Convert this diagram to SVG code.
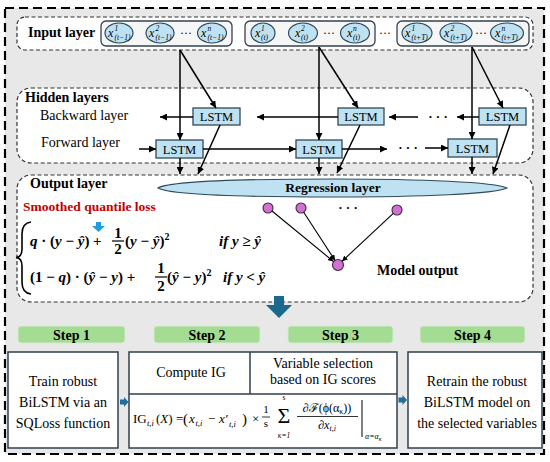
<svg xmlns="http://www.w3.org/2000/svg" width="550" height="462" viewBox="0 0 550 462" font-family="'Liberation Serif', 'DejaVu Serif', serif">
<defs>
<marker id="a" viewBox="0 0 10 10" refX="10" refY="5" markerWidth="7" markerHeight="7" markerUnits="userSpaceOnUse" orient="auto"><path d="M0,0 L10,5 L0,10 z" fill="#000"/></marker>
<marker id="s" viewBox="0 0 10 10" refX="10" refY="5" markerWidth="5.5" markerHeight="5.5" markerUnits="userSpaceOnUse" orient="auto"><path d="M0,0 L10,5 L0,10 z" fill="#000"/></marker>
<style>
text{font-family:"Liberation Serif","DejaVu Serif",serif;fill:#000}
.b{font-weight:bold;font-size:14px}
.r{font-size:14px}
.c{text-anchor:middle}
.panel{fill:#fff;stroke:#333;stroke-width:1.2;stroke-dasharray:4 2.5}
.grp{fill:#f6f6f6;stroke:#33414f;stroke-width:1.3}
.ell{fill:#bfe2f2;stroke:#2e4a5c;stroke-width:1.2}
.lstm rect{fill:#bfe2f2;stroke:#2e4a5c;stroke-width:1.3}
.lstm text{font-size:12.5px;text-anchor:middle}
.x{font-style:italic;font-size:12px}
.sp{font-style:italic;font-size:7.5px}
.con line{stroke:#000;stroke-width:1.5;marker-end:url(#a)}
.con .t{stroke-width:1.1;marker-end:url(#s)}
.pk{fill:#d46fd4;stroke:#3a2a3a;stroke-width:1.1}
.f{font-weight:bold;font-size:15px}
.i{font-style:italic}
.step rect{fill:#a4dc93;stroke:#d4ecd0;stroke-width:1}
.step text{font-weight:bold;font-size:14px;text-anchor:middle}
.box{fill:#fff;stroke:#2f3f4f;stroke-width:1.5}
.m{font-size:13px}
.sub{font-size:8.5px;font-style:italic}
.blue{fill:#1f6f9a}
</style>
</defs>

<rect id="frame" x="5" y="8" width="539" height="446" fill="#e8e8e8" stroke="#000" stroke-width="2.2" stroke-dasharray="9 5"/>

<g id="input-layer">
<rect class="panel" x="17" y="17" width="516" height="33" rx="8"/>
<text class="b" x="28" y="37">Input layer</text>
<rect class="grp" x="101" y="21" width="131" height="25" rx="5"/>
<rect class="grp" x="245" y="21" width="130" height="25" rx="5"/>
<rect class="grp" x="397" y="21" width="132" height="25" rx="5"/>
<text x="385" y="37" font-size="12" class="c">···</text>
</g>

<g id="x1-tm1"><ellipse class="ell" cx="119" cy="33" rx="14" ry="10"/><text class="x" x="108" y="37">x</text><text class="sp" x="114.5" y="31">1</text><text class="sp" x="114.5" y="39.5">(t−1)</text></g>
<g id="x2-tm1"><ellipse class="ell" cx="160" cy="33" rx="14" ry="10"/><text class="x" x="149" y="37">x</text><text class="sp" x="155.5" y="31">2</text><text class="sp" x="155.5" y="39.5">(t−1)</text></g>
<text x="186" y="37" font-size="12" class="c">···</text>
<g id="xn-tm1"><ellipse class="ell" cx="212" cy="33" rx="14.5" ry="10"/><text class="x" x="201" y="37">x</text><text class="sp" x="207.5" y="31">n</text><text class="sp" x="207.5" y="39.5">(t−1)</text></g>

<g id="x1-t"><ellipse class="ell" cx="263" cy="33" rx="12" ry="10"/><text class="x" x="255" y="37">x</text><text class="sp" x="261" y="31">1</text><text class="sp" x="261" y="39.5">(t)</text></g>
<g id="x2-t"><ellipse class="ell" cx="303" cy="33" rx="14.5" ry="10"/><text class="x" x="295" y="37">x</text><text class="sp" x="301" y="31">2</text><text class="sp" x="301" y="39.5">(t)</text></g>
<text x="329" y="37" font-size="12" class="c">···</text>
<g id="xn-t"><ellipse class="ell" cx="355" cy="33" rx="14.5" ry="10"/><text class="x" x="347" y="37">x</text><text class="sp" x="353" y="31">n</text><text class="sp" x="353" y="39.5">(t)</text></g>

<g id="x1-tT"><ellipse class="ell" cx="417" cy="33" rx="15" ry="10"/><text class="x" x="405" y="37">x</text><text class="sp" x="411.5" y="31">1</text><text class="sp" x="411.5" y="39.5">(t+T)</text></g>
<g id="x2-tT"><ellipse class="ell" cx="456" cy="33" rx="16" ry="10"/><text class="x" x="444" y="37">x</text><text class="sp" x="450.5" y="31">2</text><text class="sp" x="450.5" y="39.5">(t+T)</text></g>
<text x="481" y="37" font-size="12" class="c">···</text>
<g id="xn-tT"><ellipse class="ell" cx="507" cy="33" rx="16.5" ry="10"/><text class="x" x="495" y="37">x</text><text class="sp" x="501.5" y="31">n</text><text class="sp" x="501.5" y="39.5">(t+T)</text></g>

<g id="hidden-layers">
<rect class="panel" x="17" y="88" width="516" height="75" rx="14"/>
<text class="b" x="25" y="102">Hidden layers</text>
<text class="r" x="40" y="120">Backward layer</text>
<text class="r" x="41" y="147">Forward layer</text>
<text x="438" y="121" font-size="13" font-weight="bold" class="c">· · ·</text>
<text x="408" y="152" font-size="13" font-weight="bold" class="c">· · ·</text>
</g>

<g id="lstm-b1" class="lstm"><rect x="193" y="108" width="47" height="17"/><text x="216.5" y="121">LSTM</text></g>
<g id="lstm-b2" class="lstm"><rect x="338" y="108" width="46" height="17"/><text x="361" y="121">LSTM</text></g>
<g id="lstm-b3" class="lstm"><rect x="479" y="108" width="47" height="17"/><text x="502.5" y="121">LSTM</text></g>
<g id="lstm-f1" class="lstm"><rect x="156" y="140" width="47" height="18"/><text x="179.5" y="153.5">LSTM</text></g>
<g id="lstm-f2" class="lstm"><rect x="296" y="140" width="46" height="18"/><text x="319" y="153.5">LSTM</text></g>
<g id="lstm-f3" class="lstm"><rect x="448" y="139" width="49" height="18"/><text x="472.5" y="152.5">LSTM</text></g>

<g id="output-layer">
<rect class="panel" x="17" y="175" width="516" height="127" rx="14"/>
<text class="b" x="30" y="188">Output layer</text>
<text x="23" y="211" font-weight="bold" font-size="13.5" style="fill:#c00000">Smoothed quantile loss</text>
<polygon points="96,222 101,222 101,226 105,226 98.5,232 92,226 96,226" fill="#1e9ee0"/>
<path d="M31,222 Q22,223 22,234 L22,249 Q22,257 16,257.5 Q22,258 22,266 L22,282 Q22,293 31,294" fill="none" stroke="#000" stroke-width="1.6"/>
<text class="f" x="30" y="246"><tspan class="i">q</tspan> · (<tspan class="i">y</tspan> − <tspan class="i">ŷ</tspan>)</text>
<text class="f" x="93" y="246">+</text>
<text class="f c" x="118" y="238">1</text>
<line x1="112" y1="241" x2="124" y2="241" stroke="#000" stroke-width="1.2"/>
<text class="f c" x="118" y="254">2</text>
<text class="f" x="125" y="246">(<tspan class="i">y</tspan> − <tspan class="i">ŷ</tspan>)<tspan dy="-6" font-size="10">2</tspan></text>
<text class="f i" x="219" y="246">if y ≥ ŷ</text>
<text class="f" x="30" y="282">(1 − <tspan class="i">q</tspan>) · (<tspan class="i">ŷ</tspan> − <tspan class="i">y</tspan>) +</text>
<text class="f c" x="161" y="273">1</text>
<line x1="155" y1="277" x2="167" y2="277" stroke="#000" stroke-width="1.2"/>
<text class="f c" x="161" y="291">2</text>
<text class="f" x="167" y="282">(<tspan class="i">ŷ</tspan> − <tspan class="i">y</tspan>)<tspan dy="-6" font-size="10">2</tspan></text>
<text class="f i" x="223" y="282">if y &lt; ŷ</text>
<text class="b" x="377" y="275">Model output</text>
<text x="348" y="212" font-size="13" font-weight="bold" class="c">· · ·</text>
</g>

<g id="regression-layer">
<path d="M158,188 C172,180 280,179 335,179 C420,179 495,182 507,188 C495,194 420,197 335,197 C280,197 172,196 158,188 Z" fill="#bfe2f2" stroke="#2e4a5c" stroke-width="1.2"/>
<text class="c" x="333" y="192" font-weight="bold" font-size="13.5">Regression layer</text>
</g>
<g id="reg-node-1"><circle class="pk" cx="268" cy="208" r="5"/></g>
<g id="reg-node-2"><circle class="pk" cx="301" cy="208" r="5"/></g>
<g id="reg-node-n"><circle class="pk" cx="397" cy="210" r="5"/></g>
<g id="model-output-node"><circle class="pk" cx="338" cy="265" r="5.5"/></g>

<g id="connectors" class="con">
<line x1="180" y1="50" x2="180" y2="140"/>
<line x1="180" y1="50" x2="216" y2="108"/>
<line x1="319" y1="47" x2="319" y2="140"/>
<line x1="319" y1="47" x2="358" y2="108"/>
<line x1="472" y1="47" x2="472" y2="139"/>
<line x1="472" y1="47" x2="503" y2="108"/>
<line x1="193" y1="117" x2="160" y2="117"/>
<line x1="338" y1="117" x2="257" y2="117"/>
<line x1="418" y1="117" x2="389" y2="117"/>
<line x1="479" y1="117" x2="457" y2="117"/>
<line x1="139" y1="149" x2="156" y2="149"/>
<line x1="203" y1="149" x2="296" y2="149"/>
<line x1="342" y1="149" x2="387" y2="149"/>
<line x1="425" y1="148" x2="448" y2="148"/>
<line x1="180" y1="158" x2="180" y2="174"/>
<line x1="220" y1="125" x2="198" y2="174"/>
<line x1="319" y1="158" x2="319" y2="174"/>
<line x1="360" y1="125" x2="337" y2="173"/>
<line x1="472" y1="157" x2="472" y2="174"/>
<line x1="510" y1="125" x2="493" y2="174"/>
<line class="t" x1="272" y1="211" x2="333.5" y2="261.5"/>
<line class="t" x1="303.7" y1="212.2" x2="335" y2="260.4"/>
<line class="t" x1="393.3" y1="213.4" x2="342" y2="261.3"/>
</g>

<polygon id="flow-arrow" points="274,296 284,296 284,305 292,305 279,318 266,305 274,305" fill="#1b6a8e"/>

<g id="step1" class="step"><rect x="18" y="326" width="107" height="17" rx="3"/><text x="71.5" y="339.5">Step 1</text></g>
<g id="step2" class="step"><rect x="154" y="326" width="106" height="17" rx="3"/><text x="207" y="339.5">Step 2</text></g>
<g id="step3" class="step"><rect x="288" y="326" width="105" height="17" rx="3"/><text x="340.5" y="339.5">Step 3</text></g>
<g id="step4" class="step"><rect x="420" y="326" width="105" height="17" rx="3"/><text x="472.5" y="339.5">Step 4</text></g>

<g id="box-train">
<rect class="box" x="8" y="352" width="110" height="96"/>
<text class="r c" x="63" y="386">Train robust</text>
<text class="r c" x="63" y="407">BiLSTM via an</text>
<text class="r c" x="63" y="428">SQLoss function</text>
</g>

<g id="box-ig">
<rect class="box" x="129" y="352" width="268" height="96"/>
<line x1="129" y1="394" x2="397" y2="394" stroke="#2f3f4f" stroke-width="1.5"/>
<line x1="250" y1="352" x2="250" y2="394" stroke="#2f3f4f" stroke-width="1.5"/>
<text class="r c" x="191" y="377">Compute IG</text>
<text class="r c" x="323" y="368">Variable selection</text>
<text class="r c" x="323" y="384">based on IG scores</text>
<text class="m" x="133" y="423">IG</text>
<text class="sub" x="147" y="426">t,i</text>
<text class="m" x="156" y="423">(<tspan class="i">X</tspan>) = </text>
<text x="183" y="424" font-size="15">(</text>
<text class="m i" x="189" y="423">x</text>
<text class="sub" x="195.5" y="426">t,i</text>
<text class="m" x="208" y="423">−</text>
<text class="m i" x="219" y="423">x′</text>
<text class="sub" x="229" y="427">t,i</text>
<text x="242" y="424" font-size="15">)</text>
<text class="m" x="252" y="423">×</text>
<text class="c" x="266" y="413" font-size="11">1</text>
<line x1="262" y1="417" x2="270" y2="417" stroke="#000" stroke-width="0.8"/>
<text class="c" x="266" y="427" font-size="11">s</text>
<text class="c" x="284" y="400" font-size="7.5">s</text>
<text class="c" x="284" y="423" font-size="22">Σ</text>
<text class="c i" x="284" y="438" font-size="7.5">κ=1</text>
<text class="c" x="327" y="412" font-size="12">∂ℱ(ϕ(α<tspan dy="2" font-size="8">κ</tspan><tspan dy="-2">))</tspan></text>
<line x1="297" y1="416.5" x2="358" y2="416.5" stroke="#000" stroke-width="0.8"/>
<text class="c" x="327" y="429" font-size="12">∂<tspan class="i">x</tspan><tspan dy="2" font-size="8" class="i">t,i</tspan></text>
<line x1="362" y1="400" x2="362" y2="437" stroke="#000" stroke-width="1"/>
<text class="i" x="365" y="439" font-size="8">α=α<tspan dy="1.5" font-size="6">κ</tspan></text>
</g>

<g id="box-retrain">
<rect class="box" x="408" y="352" width="134" height="96"/>
<text class="r c" x="477" y="386">Retrain the robust</text>
<text class="r c" x="477" y="407">BiLSTM model on</text>
<text class="r c" x="477" y="428">the selected variables</text>
</g>

<g id="step-arrows">
<polygon class="blue" points="120,399.5 124,399.5 124,397 128.5,402 124,407 124,404.5 120,404.5"/>
<polygon class="blue" points="398.5,397.5 402.5,397.5 402.5,395 407,400 402.5,405 402.5,402.5 398.5,402.5"/>
</g>
</svg>
